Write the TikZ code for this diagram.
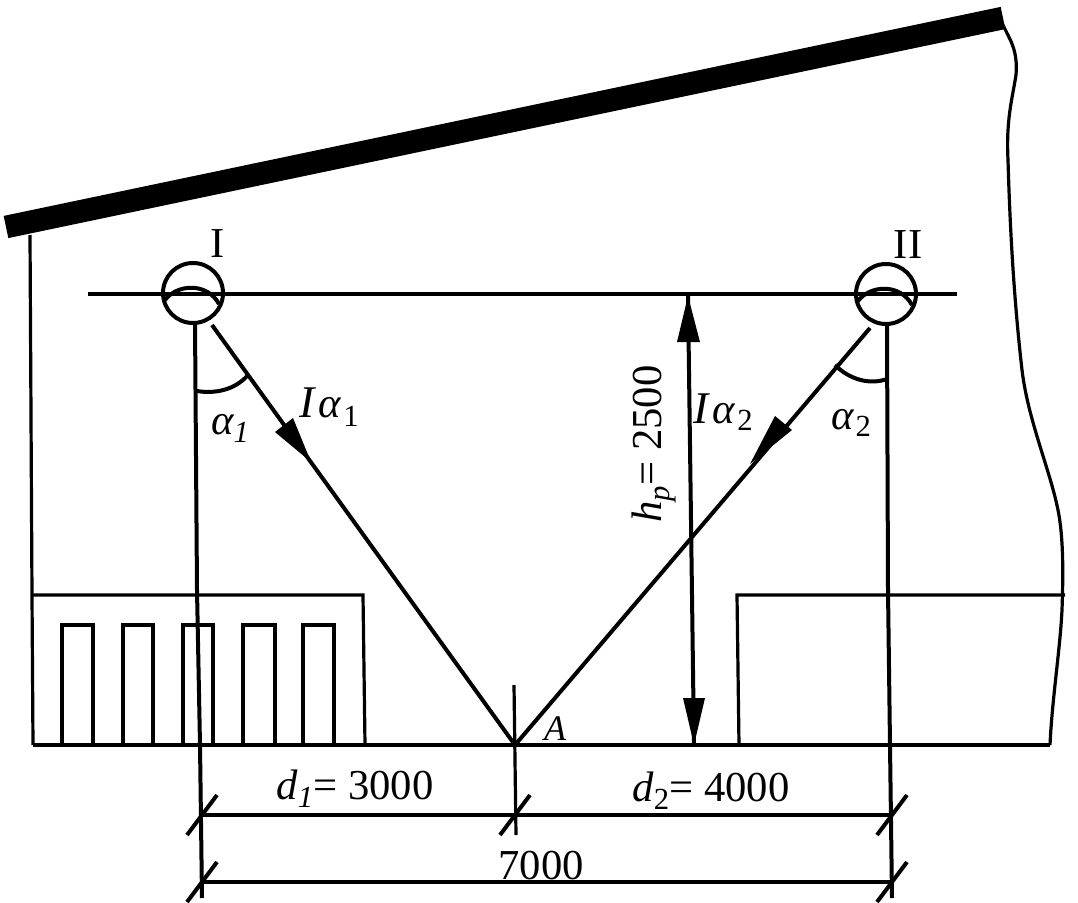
\documentclass[tikz,border=0pt]{standalone}
\usepackage{fontspec}
\setmainfont{Liberation Serif}
\newcommand{\lowsub}[2]{\raisebox{#1}{\fontsize{23}{25}\selectfont #2}}
\newcommand{\bigtxt}[1]{{\fontsize{32}{34}\selectfont #1}}
\tikzset{
  ln/.style={line width=3pt,black},
  thinln/.style={line width=2.4pt,black},
  roofln/.style={line width=17pt,black},
  lab/.style={inner sep=0pt,font=\fontsize{32}{34}\selectfont},
  solidhead/.style={fill=black,draw=none}
}
\begin{document}
\begin{tikzpicture}[x=0.75pt,y=-0.75pt]
\useasboundingbox (0,0) rectangle (1078,903);
% named points
\coordinate (roofL) at (6,227);
\coordinate (roofR) at (1003,18);
\coordinate (A) at (515,745);
\coordinate (lampL) at (88,294);
\coordinate (lampR) at (957,294);
\coordinate (I1) at (193,293);
\coordinate (I2) at (886,294);
\coordinate (rayI) at (212,325);
\coordinate (rayII) at (870,328);
\coordinate (hTop) at (688,296);
\coordinate (hBot) at (694,745);
\coordinate (d1L) at (202,815);
\coordinate (d1M) at (515,815);
\coordinate (d1R) at (892,815);
\coordinate (d0L) at (202,882);
\coordinate (d0R) at (892,882);
% roof and walls
\draw[roofln] (roofL) -- (roofR);
\draw[thinln] (30,235) -- (32,595) -- (33,745);
\draw[thinln] (1003,25) .. controls (1010,40) and (1018,50) .. (1016,75)
  .. controls (1012,100) and (1006,120) .. (1008,160)
  .. controls (1010,230) and (1014,300) .. (1022,370)
  .. controls (1028,420) and (1050,470) .. (1058,510)
  .. controls (1064,540) and (1063,580) .. (1062,610)
  .. controls (1060,650) and (1052,700) .. (1050,745);
% ground and lamp line
\draw[ln] (33,745) -- (1050,745);
\draw[ln] (lampL) -- (lampR);
% left building
\draw[thinln] (32,595) -- (363,595) -- (365,745);
\foreach \a/\b in {62/93,123/153,183/213,243/275,303/334}
  \draw[thinln] (\a,745) -- (\a,625) -- (\b,625) -- (\b,745);
% right building
\draw[thinln] (739,745) -- (737,595) -- (1065,595);
% lamps
\foreach \c in {I1,I2}{
  \draw[ln] (\c) circle[radius=30];
  \draw[ln] ([shift={(-28,7)}]\c) .. controls ([shift={(-16,-9)}]\c) and ([shift={(14,-11)}]\c) .. ([shift={(26,11)}]\c);
}
% extension lines
\draw[ln] (195,323) -- (197,590) -- (200,745) -- (202,898);
\draw[ln] (887,325) -- (888,590) -- (890,745) -- (892,898);
\draw[thinln] (514,685) -- (516,835);
% rays
\draw[ln] (rayI) -- (A);
\draw[ln] (rayII) -- (A);
\path[solidhead] (311,462) -- (275,432) -- (293,418) -- cycle;
\path[solidhead] (750,464) -- (775,416) -- (792,430) -- cycle;
% angle arcs
\draw[ln] (197,391) .. controls (215,394) and (235,390) .. (248,375);
\draw[ln] (835,365) .. controls (850,380) and (870,385) .. (887,379);
% height dimension
\draw[ln] (hTop) -- (hBot);
\path[solidhead] (hTop) -- (700,342) -- (677,342) -- cycle;
\path[solidhead] (hBot) -- (683,698) -- (705,698) -- cycle;
% dimension lines
\draw[ln] (d1L) -- (d1R);
\draw[ln] (d0L) -- (d0R);
\foreach \c in {d1L,d1M,d1R,d0L,d0R}
  \draw[ln] ([shift={(-15,20)}]\c) -- ([shift={(15,-20)}]\c);
% labels
\node[lab] (nI) at (218,244) {I};
\node[lab] (nII) at (908,245) {II};
\node[inner sep=0pt] (ia1) at (329,407) {{\fontsize{34}{36}\selectfont\itshape I}\kern3pt\bigtxt{\itshape α}\kern2pt\lowsub{-7pt}{1}};
\node[inner sep=0pt] (a1) at (230,428) {\bigtxt{\itshape α}\lowsub{-6pt}{\itshape 1}};
\node[inner sep=0pt] (ia2) at (723,412) {{\fontsize{34}{36}\selectfont\itshape I}\kern3pt\bigtxt{\itshape α}\kern2pt\lowsub{-5pt}{2}};
\node[inner sep=0pt] (a2) at (851,423) {\bigtxt{\itshape α}\,\lowsub{-5pt}{2}};
\node[inner sep=0pt,rotate=90] (hp) at (654,444) {\bigtxt{\itshape h}\lowsub{-6pt}{\itshape p}\bigtxt{= 2500}};
\node[inner sep=0pt,font=\fontsize{27}{29}\selectfont\itshape] (nA) at (555,729) {A};
\node[inner sep=0pt] (d1) at (355,789) {\bigtxt{\itshape d}\lowsub{-6pt}{\itshape 1}\bigtxt{= 3000}};
\node[inner sep=0pt] (d2) at (711,791) {\bigtxt{\itshape d}\lowsub{-6pt}{2}\bigtxt{= 4000}};
\node[lab] (tot) at (541,866) {7000};
\end{tikzpicture}
\end{document}
